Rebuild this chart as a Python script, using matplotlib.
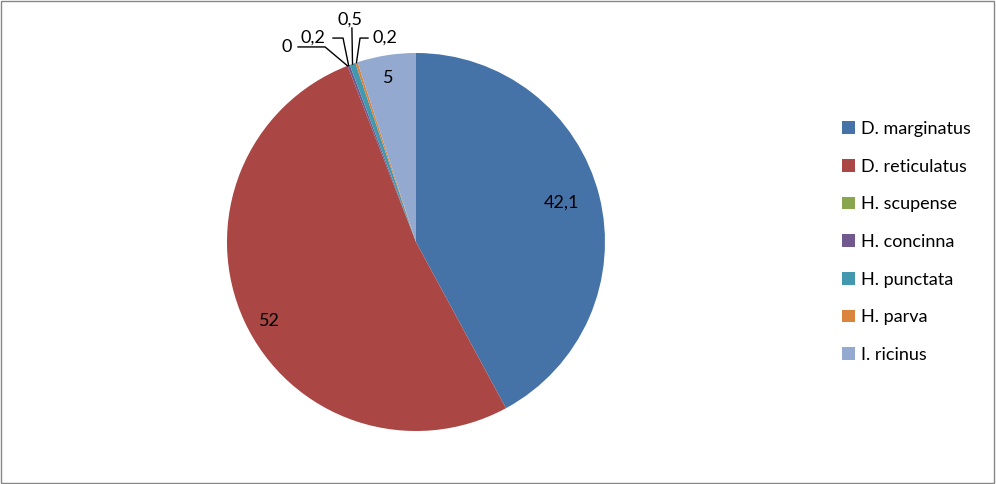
import numpy as np
import matplotlib
matplotlib.use("Agg")
from matplotlib import pyplot as plt
from matplotlib.patches import Rectangle

species = ["D. marginatus", "D. reticulatus", "H. scupense", "H. concinna",
           "H. punctata", "H. parva", "I. ricinus"]
values = [42.1, 52, 0, 0.2, 0.5, 0.2, 5]
value_labels = ["42,1", "52", "0", "0,2", "0,5", "0,2", "5"]
colors = ["#4572A7", "#AA4643", "#89A54E", "#71588F", "#4198AF", "#DB843D", "#93A9CF"]

plt.rcParams["font.family"] = ["Lato", "DejaVu Sans"]
fs = 13

fig = plt.figure(figsize=(9.96, 4.84), dpi=100)
fig.patches.append(Rectangle((0.001, 0.002), 0.997, 0.995, transform=fig.transFigure,
                             fill=False, edgecolor="#878787", linewidth=1))

ax = fig.add_axes([0.2279, 0.1095, 0.3795, 0.781])
wedges, _ = ax.pie(values, colors=colors, startangle=90, counterclock=False,
                   wedgeprops=dict(linewidth=0))
ax.set_xlim(-1, 1)
ax.set_ylim(-1, 1)
ax.set_aspect("auto")

# mid angles of wedges
mids = [np.deg2rad((w.theta1 + w.theta2) / 2) for w in wedges]

# big slices: labels inside (radius, angle tweak in degrees)
for i, r, da in [(0, 0.80, 1.0), (1, 0.88, 3.4), (6, 0.88, 0.5)]:
    a = mids[i] + np.deg2rad(da)
    ax.text(r * np.cos(a), r * np.sin(a), value_labels[i],
            ha="center", va="center", fontsize=fs)

# small slices: labels outside with leader lines
small = {
    2: ((-0.683, 1.032), [(-0.624, 1.032), (-0.481, 1.032)]),
    3: ((-0.545, 1.079), [(-0.439, 1.079), (-0.386, 1.079)]),
    4: ((-0.349, 1.175), [(-0.339, 1.132)]),
    5: ((-0.164, 1.079), [(-0.254, 1.079), (-0.296, 1.079)]),
}
for i, (txt, pts) in small.items():
    ax.text(txt[0], txt[1], value_labels[i], ha="center", va="center", fontsize=fs)
    anchor = (np.cos(mids[i]), np.sin(mids[i]))
    xs = [p[0] for p in pts] + [anchor[0]]
    ys = [p[1] for p in pts] + [anchor[1]]
    ax.plot(xs, ys, color="black", linewidth=1, clip_on=False)

fig.legend(wedges, species, loc="center left", bbox_to_anchor=(0.829, 0.5),
           frameon=False, fontsize=fs, labelspacing=1.2, handlelength=0.7,
           handleheight=0.7, handletextpad=0.35)

fig.savefig("out.png", dpi=100)
